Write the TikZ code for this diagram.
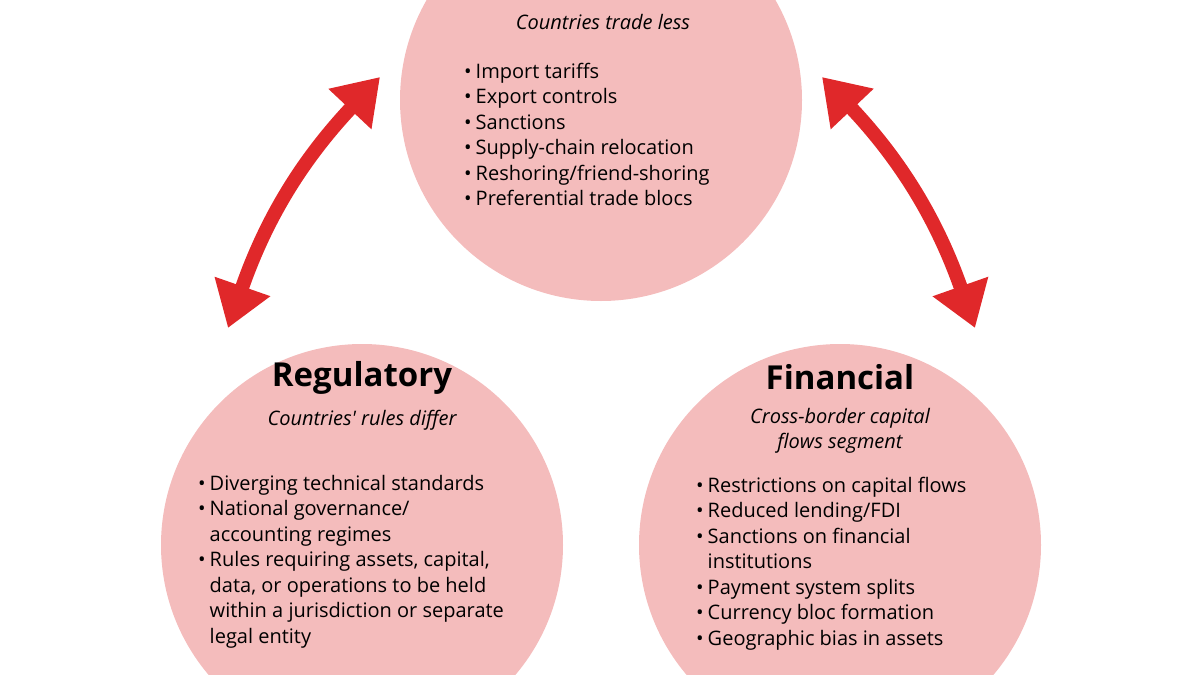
\documentclass[tikz,border=0pt]{standalone}
\usepackage{fontspec}
\setmainfont{Open Sans}
\usetikzlibrary{arrows.meta}
\definecolor{circ}{HTML}{F4BCBC}
\definecolor{arr}{HTML}{E0282A}
\begin{document}
\begin{tikzpicture}[x=1pt,y=1pt,
  circ/.style={circle,fill=circ,minimum size=402pt,inner sep=0},
  dbl/.style={arr,line width=14pt,{Triangle[length=44pt,width=56pt]}-{Triangle[length=44pt,width=56pt]}},
  lst/.style={anchor=north west,inner sep=0,font=\fontsize{20}{25.5}\selectfont},
  ttl/.style={font=\fontsize{33}{36}\selectfont\bfseries},
  sub/.style={font=\fontsize{20}{25}\selectfont\itshape,align=center}]
\useasboundingbox (0,0) rectangle (1200,-675);
\clip (0,0) rectangle (1200,-675);
\node[circ] (top) at (601,-100) {};
\node[circ] (reg) at (362,-545) {};
\node[circ] (fin) at (840,-545) {};
\coordinate (l1) at (228,-328); \coordinate (l2) at (380,-77);
\coordinate (r1) at (822,-77); \coordinate (r2) at (975,-328);
\draw[dbl] (l1) to[bend left=12] (l2);
\draw[dbl] (r1) to[bend left=12] (r2);
\node[sub] (ts) at (603,-22) {Countries trade less};
\node[lst] (tl) at (464,-60) {\begin{tabular}{@{}l@{\hspace{4pt}}l@{}}
\textbullet & Import tariffs\\
\textbullet & Export controls\\
\textbullet & Sanctions\\
\textbullet & Supply-chain relocation\\
\textbullet & Reshoring/friend-shoring\\
\textbullet & Preferential trade blocs
\end{tabular}};
\node[ttl] (rt) at (362,-378) {Regulatory};
\node[sub] (rs) at (362,-420) {Countries\textquotesingle{} rules differ};
\node[lst] (rl) at (198,-472) {\begin{tabular}{@{}l@{\hspace{4pt}}l@{}}
\textbullet & Diverging technical standards\\
\textbullet & National governance/\\
 & accounting regimes\\
\textbullet & Rules requiring assets, capital,\\
 & data, or operations to be held\\
 & within a jurisdiction or separate\\
 & legal entity
\end{tabular}};
\node[ttl] (ft) at (840,-377) {Financial};
\node[sub] (fs) at (840,-431) {Cross-border capital\\flows segment};
\node[lst] (fl) at (696,-474) {\begin{tabular}{@{}l@{\hspace{4pt}}l@{}}
\textbullet & Restrictions on capital flows\\
\textbullet & Reduced lending/FDI\\
\textbullet & Sanctions on financial\\
 & institutions\\
\textbullet & Payment system splits\\
\textbullet & Currency bloc formation\\
\textbullet & Geographic bias in assets
\end{tabular}};
\end{tikzpicture}
\end{document}
